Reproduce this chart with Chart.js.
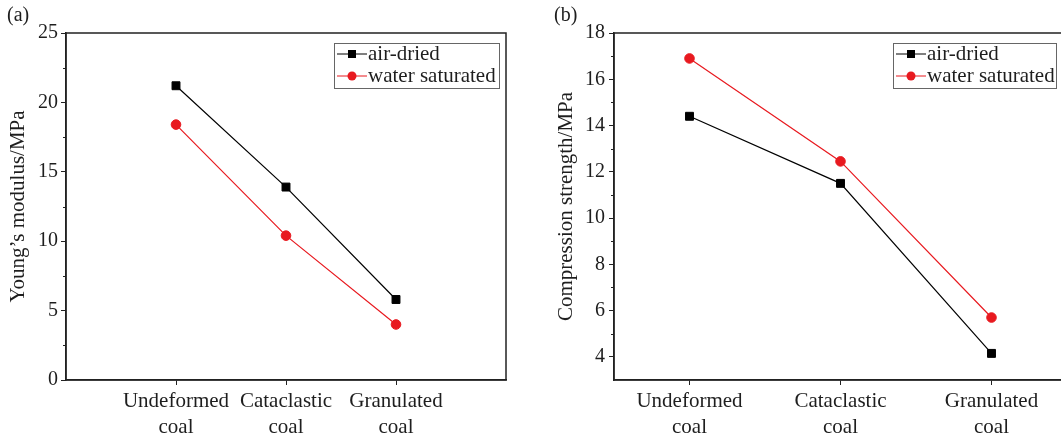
<!DOCTYPE html>
<html>
<head>
<meta charset="utf-8">
<script src="https://cdn.jsdelivr.net/npm/chart.js@4.4.0/dist/chart.umd.min.js"></script>
<style>
  html, body { margin: 0; padding: 0; background: #fff; overflow: hidden; width: 1061px; height: 433px; }
  #wrapA { position: absolute; left: 0; top: 0; width: 530px; height: 433px; }
  #wrapB { position: absolute; left: 530px; top: 0; width: 545px; height: 433px; }
</style>
</head>
<body>
<div id="wrapA"><canvas id="chartA"></canvas></div>
<div id="wrapB"><canvas id="chartB"></canvas></div>
<script>
// data
const categories = [["Undeformed", "coal"], ["Cataclastic", "coal"], ["Granulated", "coal"]];
const seriesNames = ["air-dried", "water saturated"];
const youngAirDried = [21.2, 13.9, 5.8];
const youngWater = [18.4, 10.4, 4.0];
const strengthAirDried = [14.4, 11.5, 4.15];
const strengthWater = [16.9, 12.45, 5.7];
const ticksA = [0, 5, 10, 15, 20, 25];
const minorA = [2.5, 7.5, 12.5, 17.5, 22.5];
const ticksB = [4, 6, 8, 10, 12, 14, 16, 18];
const minorB = [5, 7, 9, 11, 13, 15, 17];

const FONT = '"Liberation Serif", "DejaVu Serif", serif';
const BLACK = "#000000";
const RED = "#e8191f";
const TEXT = "#1e1e1e";

function points(values) {
  return values.map((v, i) => ({ x: i + 1, y: v }));
}

// frame, minor ticks, panel letter and legend
const decor = {
  id: "decor",
  afterDraw(chart, args, opts) {
    const { ctx, chartArea: a } = chart;
    const y = chart.scales.y;
    ctx.save();
    ctx.strokeStyle = "#222";
    ctx.lineWidth = 1.5;
    ctx.strokeRect(a.left, a.top, a.right - a.left, a.bottom - a.top);

    ctx.lineWidth = 1;
    opts.minor.forEach(v => {
      const py = Math.round(y.getPixelForValue(v)) + 0.5;
      ctx.beginPath();
      ctx.moveTo(a.left - 3, py);
      ctx.lineTo(a.left, py);
      ctx.stroke();
    });

    ctx.font = "20px " + FONT;
    ctx.fillStyle = TEXT;
    ctx.textBaseline = "middle";
    ctx.textAlign = "left";
    ctx.fillText(opts.label, opts.labelX, 16);

    // legend box
    const bx = a.right - opts.legendOffset, by = a.top + 10;
    ctx.strokeStyle = "#666";
    ctx.lineWidth = 1;
    ctx.strokeRect(bx + 0.5, by + 0.5, opts.legendWidth, 45);
    ctx.font = "21px " + FONT;
    chart.data.datasets.forEach((ds, i) => {
      const ly = by + 11 + i * 22;
      ctx.strokeStyle = ds.borderColor;
      ctx.lineWidth = 1;
      ctx.beginPath();
      ctx.moveTo(bx + 3, ly);
      ctx.lineTo(bx + 33, ly);
      ctx.stroke();
      ctx.fillStyle = ds.backgroundColor;
      if (ds.pointStyle === "rect") {
        ctx.fillRect(bx + 14, ly - 4, 8, 8);
      } else {
        ctx.beginPath();
        ctx.arc(bx + 18, ly, 4.5, 0, Math.PI * 2);
        ctx.fill();
      }
      ctx.fillStyle = TEXT;
      ctx.fillText(ds.label, bx + 34, ly);
    });
    ctx.restore();
  }
};

function makeChart(id, cfg) {
  return new Chart(document.getElementById(id), {
    type: "line",
    data: {
      datasets: [
        {
          label: seriesNames[0], data: points(cfg.air),
          borderColor: BLACK, backgroundColor: BLACK, borderWidth: 1.2,
          pointStyle: "rect", pointRadius: 5.6, pointBorderWidth: 1
        },
        {
          label: seriesNames[1], data: points(cfg.water),
          borderColor: RED, backgroundColor: RED, borderWidth: 1.2,
          pointStyle: "circle", pointRadius: 4.8, pointBorderWidth: 1
        }
      ]
    },
    options: {
      responsive: true,
      maintainAspectRatio: false,
      animation: false,
      layout: { padding: { left: 0, top: 33, right: cfg.padRight, bottom: 0 } },
      plugins: {
        legend: { display: false },
        tooltip: { enabled: false },
        decor: cfg.decor
      },
      scales: {
        x: {
          type: "linear",
          min: cfg.xMin, max: cfg.xMax,
          afterBuildTicks: s => { s.ticks = [1, 2, 3].map(v => ({ value: v })); },
          afterFit: s => { s.height = 53; },
          grid: { drawOnChartArea: false, tickLength: 5, color: "#222", tickWidth: 1 },
          border: { color: "#222", width: 1.5 },
          ticks: {
            padding: 3,
            color: TEXT,
            font: { family: FONT, size: 21, lineHeight: 1.25 },
            callback: v => categories[v - 1]
          }
        },
        y: {
          min: cfg.yMin, max: cfg.yMax,
          afterBuildTicks: s => { s.ticks = cfg.yTicks.map(v => ({ value: v })); },
          afterFit: s => { s.width = cfg.yWidth; },
          grid: { drawOnChartArea: false, tickLength: 5, color: "#222", tickWidth: 1 },
          border: { color: "#222", width: 1.5 },
          ticks: { padding: cfg.tickPad, color: TEXT, font: { family: FONT, size: 20 } },
          title: {
            display: true,
            text: cfg.yTitle,
            color: TEXT,
            font: { family: FONT, size: 21 },
            padding: { top: cfg.titlePad, bottom: 0 }
          }
        }
      }
    },
    plugins: [decor]
  });
}

makeChart("chartA", {
  air: youngAirDried, water: youngWater,
  xMin: 0, xMax: 4, yMin: 0, yMax: 25, yTicks: ticksA,
  yWidth: 66, tickPad: 3, titlePad: 6, padRight: 24,
  yTitle: "Young’s modulus/MPa",
  decor: { minor: minorA, label: "(a)", labelX: 7, legendOffset: 172, legendWidth: 165 }
});

makeChart("chartB", {
  air: strengthAirDried, water: strengthWater,
  xMin: 0.5, xMax: 3.5, yMin: 3, yMax: 18, yTicks: ticksB,
  yWidth: 84, tickPad: 4, titlePad: 24, padRight: 8,
  yTitle: "Compression strength/MPa",
  decor: { minor: minorB, label: "(b)", labelX: 24, legendOffset: 174, legendWidth: 163 }
});
</script>
</body>
</html>
